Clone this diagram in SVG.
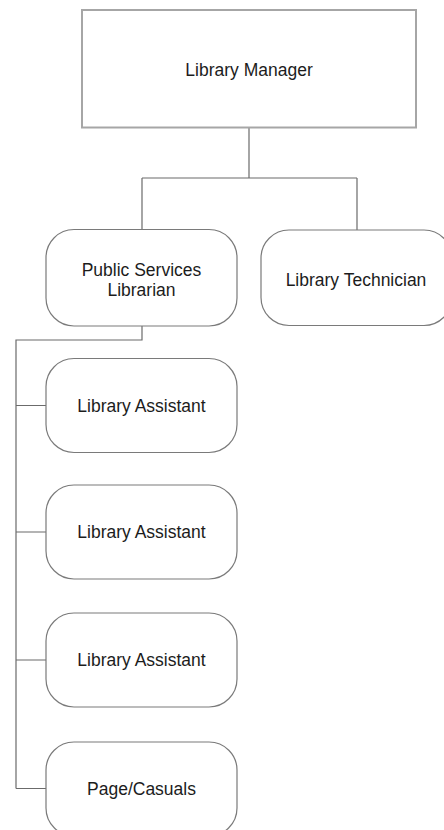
<svg xmlns="http://www.w3.org/2000/svg" width="444" height="830" viewBox="0 0 444 830">
  <style>
    .bg { fill: #ffffff; }
    .head { fill: #ffffff; stroke: #a6a6a6; stroke-width: 2; }
    .role { fill: #ffffff; stroke: #7a7a7a; stroke-width: 1.2; }
    .link { fill: none; stroke: #6b6b6b; stroke-width: 1.2; }
    .label { font-family: "Liberation Sans", Arial, sans-serif; font-size: 17.5px; fill: #1c1c1c; text-anchor: middle; dominant-baseline: central; }
  </style>
  <rect class="bg" x="0" y="0" width="444" height="830"/>

  <!-- reporting lines -->
  <g id="connectors">
    <path class="link" d="M249,128 V178 M142,178 H357 M142,178 V229 M357,178 V230"/>
    <path class="link" d="M142,326 V340 H16 V788.5"/>
    <path class="link" d="M16,405.5 H46 M16,532 H46 M16,660 H46 M16,788.5 H46"/>
  </g>

  <g id="library-manager">
    <rect class="head" x="82" y="10" width="334" height="117.5"/>
    <text class="label" x="249" y="70">Library Manager</text>
  </g>

  <g id="public-services-librarian">
    <rect class="role" x="46" y="229.5" width="191" height="96.5" rx="28"/>
    <text class="label" x="141.5" y="270">Public Services</text>
    <text class="label" x="141.5" y="290">Librarian</text>
  </g>

  <g id="library-technician">
    <rect class="role" x="261" y="230" width="191" height="95.5" rx="28"/>
    <text class="label" x="356" y="280">Library Technician</text>
  </g>

  <g id="library-assistant-1">
    <rect class="role" x="46" y="358.5" width="191" height="94" rx="28"/>
    <text class="label" x="141.5" y="406">Library Assistant</text>
  </g>

  <g id="library-assistant-2">
    <rect class="role" x="46" y="485" width="191" height="94" rx="28"/>
    <text class="label" x="141.5" y="532">Library Assistant</text>
  </g>

  <g id="library-assistant-3">
    <rect class="role" x="46" y="613" width="191" height="94" rx="28"/>
    <text class="label" x="141.5" y="660">Library Assistant</text>
  </g>

  <g id="page-casuals">
    <rect class="role" x="46" y="742" width="191" height="94" rx="28"/>
    <text class="label" x="141.5" y="789">Page/Casuals</text>
  </g>
</svg>
